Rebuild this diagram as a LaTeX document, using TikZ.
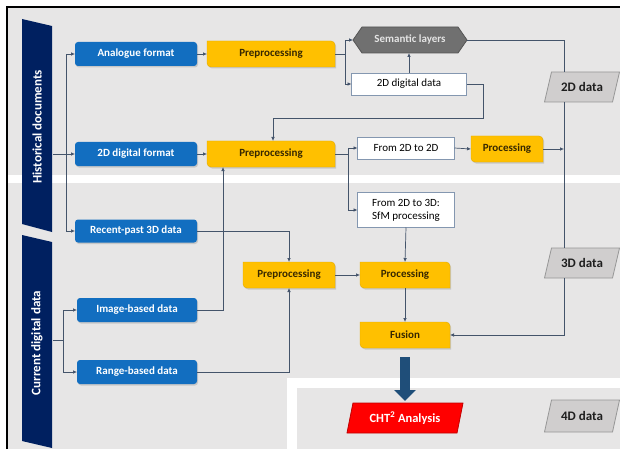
\documentclass[tikz,border=0pt]{standalone}
\usepackage{fontspec}
\setmainfont{Carlito}
\usetikzlibrary{arrows.meta,shadows,calc}
\definecolor{bgray}{RGB}{231,230,230}
\definecolor{navy}{RGB}{0,32,96}
\definecolor{nblue}{RGB}{18,110,192}
\definecolor{nyel}{RGB}{255,192,0}
\definecolor{yedge}{RGB}{225,170,0}
\definecolor{ytext}{RGB}{55,40,0}
\definecolor{lncol}{RGB}{68,84,106}
\definecolor{tipcol}{RGB}{30,50,90}
\definecolor{wbord}{RGB}{132,151,176}
\definecolor{hexf}{RGB}{112,112,112}
\definecolor{hexd}{RGB}{85,85,85}
\definecolor{hext}{RGB}{228,228,228}
\definecolor{parfill}{RGB}{208,206,206}
\definecolor{pard}{RGB}{150,150,150}
\definecolor{partext}{RGB}{30,30,30}
\definecolor{darrow}{RGB}{31,78,121}
\definecolor{redc}{RGB}{255,0,0}
\definecolor{redd}{RGB}{192,0,0}
\pgfdeclarelayer{bg}\pgfdeclarelayer{fills}\pgfsetlayers{bg,fills,main}
\newcommand\yshape[1]{%
  \filldraw[fill=nyel,draw=yedge,line width=0.4pt,drop shadow={shadow xshift=1.2pt,shadow yshift=-1.5pt,opacity=.3}]
  (#1.north west) -- ([xshift=-4pt]#1.north east) arc[start angle=90,end angle=0,radius=4pt]
  -- (#1.south east) -- ([xshift=4pt]#1.south west) arc[start angle=270,end angle=180,radius=4pt] -- cycle;}
\newcommand\pshape[3]{%
  \filldraw[#2] ([xshift=#3]#1.north west) -- (#1.north east) -- ([xshift=-#3]#1.south east) -- (#1.south west) -- cycle;}
\tikzset{
  bluebox/.style={rectangle, rounded corners=3pt, fill=nblue, text=white,
    font=\fontsize{11}{13}\selectfont\bfseries, minimum height=24pt, inner sep=0pt, outer sep=0pt,
    drop shadow={shadow xshift=1pt,shadow yshift=-1.5pt,opacity=.3}},
  yelbox/.style={rectangle, text=ytext, font=\fontsize{11}{13}\selectfont\bfseries,
    minimum height=26pt, inner sep=0pt, outer sep=0pt},
  whitebox/.style={rectangle, fill=white, draw=wbord, line width=0.8pt,
    font=\fontsize{11}{13}\selectfont, minimum height=22pt, inner sep=0pt, outer sep=0pt, align=center},
  hexbox/.style={rectangle, text=hext, font=\fontsize{11}{13}\selectfont\bfseries,
    minimum height=26pt, inner sep=0pt, outer sep=0pt},
  parbox/.style={rectangle, text=partext, font=\fontsize{13}{15}\selectfont\bfseries,
    minimum height=30pt, minimum width=75pt, inner sep=0pt, outer sep=0pt},
  bantext/.style={text=white, font=\fontsize{13}{15}\selectfont\bfseries, rotate=90, inner sep=0pt},
  ln/.style={draw=lncol, line width=0.7pt},
  arr/.style={ln, -{Latex[length=4pt,width=3.6pt,fill=tipcol]}},
  bigarrow/.style={draw=darrow, line width=10pt, -{Triangle[length=11pt,width=21pt]}}
}
\begin{document}
\begin{tikzpicture}[x=1pt,y=1pt]
\useasboundingbox (0,0) rectangle (620,-449);
% backgrounds
\begin{pgfonlayer}{bg}
  \fill[white] (0,0) rectangle (620,-449);
  \fill[bgray] (8,-8) rectangle (620,-449);
  \fill[white] (8,-175) rectangle (620,-183);
  \fill[white] (287,-378) rectangle (620,-449);
  \fill[bgray] (297,-388) rectangle (620,-449);
  \draw[black, line width=1.5pt] (7,-449) -- (7,-7) -- (620,-7);
  % banners
  \fill[navy] (22,-19) -- (52,-26) -- (52,-232) -- (22,-224) -- cycle;
  \fill[navy] (22,-235) -- (52,-242) -- (52,-448) -- (22,-441) -- cycle;
\end{pgfonlayer}
% banner texts
\node[bantext] (hist) at (37,-127) {Historical documents};
\node[bantext] (curr) at (37,-343) {Current digital data};
\coordinate (histR) at (53,-154);
\coordinate (currR) at (53,-340);
% blue boxes
\node[bluebox, minimum width=122pt] (ana) at (136,-54) {Analogue format};
\node[bluebox, minimum width=122pt] (dig) at (136,-154) {2D digital format};
\node[bluebox, minimum width=122pt, minimum height=23pt] (rec) at (136,-231) {Recent-past 3D data};
\node[bluebox, minimum width=120pt] (img) at (137,-310) {Image-based data};
\node[bluebox, minimum width=120pt] (rng) at (137,-372) {Range-based data};
% yellow boxes
\node[yelbox, minimum width=128pt] (pre1) at (271,-54) {Preprocessing};
\node[yelbox, minimum width=128pt] (pre2) at (271,-154) {Preprocessing};
\node[yelbox, minimum width=92pt] (pre3) at (289,-275) {Preprocessing};
\node[yelbox, minimum width=90pt] (proc) at (405,-275) {Processing};
\node[yelbox, minimum width=90pt] (fus) at (405,-335) {Fusion};
\node[yelbox, minimum width=72pt] (proc2) at (507,-149) {Processing};
% white boxes
\node[whitebox, minimum width=115pt] (dd) at (409,-84) {2D digital data};
\node[whitebox, minimum width=97pt] (f22) at (406,-148) {From 2D to 2D};
\node[whitebox, minimum width=97pt, minimum height=35pt] (f23) at (406,-210) {From 2D to 3D:\\SfM processing};
% hexagon
\node[hexbox, minimum width=114pt] (sem) at (410,-40) {Semantic layers};
% parallelograms
\node[parbox] (d2) at (582,-87) {2D data};
\node[parbox] (d3) at (582,-263) {3D data};
\node[parbox, minimum height=32pt] (d4) at (582,-416) {4D data};
\node[parbox, minimum width=116pt, text=white, font=\fontsize{12.5}{15}\selectfont\bfseries] (cht) at (405,-418) {CHT\textsuperscript{2} Analysis};
% shape fills
\begin{pgfonlayer}{fills}
  \yshape{pre1}\yshape{pre2}\yshape{pre3}\yshape{proc}\yshape{fus}\yshape{proc2}
  \filldraw[fill=hexf, draw=hexd, line width=0.8pt] (sem.west) -- ([xshift=9pt]sem.north west) -- ([xshift=-9pt]sem.north east)
    -- (sem.east) -- ([xshift=-9pt]sem.south east) -- ([xshift=9pt]sem.south west) -- cycle;
  \pshape{d2}{fill=parfill,draw=pard,line width=0.8pt}{7pt}
  \pshape{d3}{fill=parfill,draw=pard,line width=0.8pt}{7pt}
  \pshape{d4}{fill=parfill,draw=pard,line width=0.8pt}{7pt}
  \pshape{cht}{fill=redc,draw=redd,line width=0.8pt}{6pt}
\end{pgfonlayer}
% connectors
\coordinate (vx) at (564,0);
\draw[ln] (histR) -- (66,-154);
\draw[arr] (66,-154) |- (ana.west);
\draw[arr] (66,-154) -- (dig.west);
\draw[arr] (66,-154) |- (rec.west);
\draw[ln] (currR) -- (63,-340);
\draw[arr] (63,-340) |- (img.west);
\draw[arr] (63,-340) |- (rng.west);
\draw[arr] (ana.east) -- (pre1.west);
\draw[arr] (dig.east) -- (pre2.west);
\draw[ln] (pre1.east) -- (345,-54);
\draw[arr] (345,-54) |- (sem.west);
\draw[arr] (345,-54) |- (dd.west);
\draw[arr] (dd.north) -- (dd.north |- sem.south);
\draw[arr] (dd.east) -| (483,-118) -| ([xshift=2pt]pre2.north);
\draw[ln] (sem.east) -| (d2.north -| vx);
\draw[ln] (d2.south -| vx) -- (d3.north -| vx);
\draw[arr] (proc2.east) -- (proc2.east -| vx);
\draw[arr] (d3.south -| vx) |- (fus.east);
\draw[ln] (pre2.east) -- (348,-154);
\draw[arr] (348,-154) |- (f22.west);
\draw[arr] (348,-154) |- (f23.west);
\draw[arr] (f22.east) -- (proc2.west);
\draw[arr] (f23.south) -- (proc.north);
\draw[arr] (rec.east) -| (pre3.north);
\draw[arr] (img.east) -| ([xshift=-48pt]pre2.south);
\draw[arr] (rng.east) -| (pre3.south);
\draw[arr] (pre3.east) -- (proc.west);
\draw[arr] (proc.south) -- (fus.north);
\draw[bigarrow] ([yshift=-9pt]fus.south) -- ([yshift=2pt]cht.north);
\end{tikzpicture}
\end{document}
